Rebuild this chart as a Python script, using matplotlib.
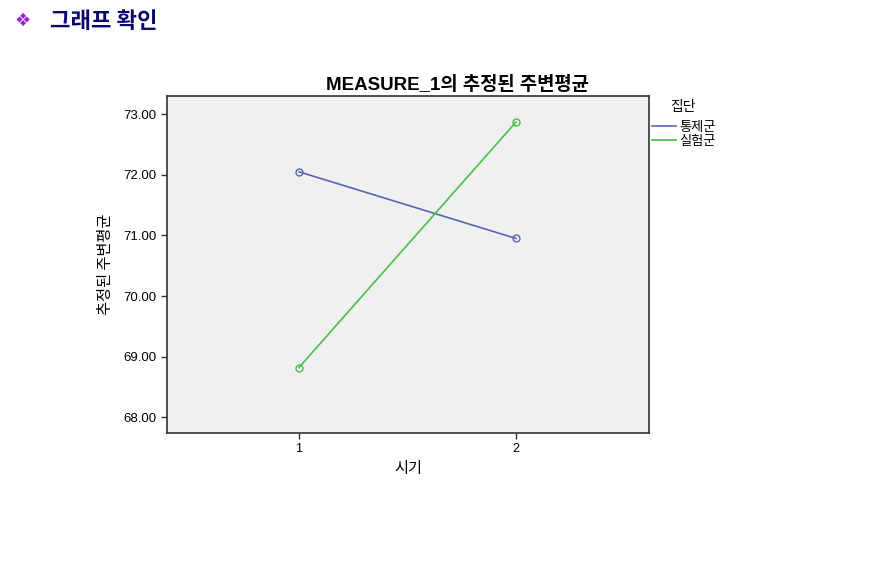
import matplotlib.pyplot as plt
from matplotlib.lines import Line2D

plt.rcParams['font.family'] = ['Noto Sans CJK KR', 'DejaVu Sans']

# data
times = [1, 2]
control = [72.05, 70.95]   # 통제군
treat = [68.82, 72.87]     # 실험군
yticks = [68, 69, 70, 71, 72, 73]

fig = plt.figure(figsize=(8.91, 5.88), dpi=100)
ax = fig.add_axes([0.1874, 0.2636, 0.541, 0.5731])
ax.set_facecolor("#f0f0f0")

ax.plot(times, control, color="#5566b4", lw=1.2, marker="o", ms=5,
        mfc="none", mec="#5566b4", mew=1.0)
ax.plot(times, treat, color="#44c044", lw=1.2, marker="o", ms=5,
        mfc="none", mec="#44c044", mew=1.0)

ax.set_xlim(0.392, 2.613)
ax.set_ylim(67.74, 73.30)
ax.set_xticks(times)
ax.set_xticklabels(["1", "2"], fontsize=9, family="Liberation Sans")
ax.set_yticks(yticks)
ax.set_yticklabels([f"{v:.2f}" for v in yticks], fontsize=9.5,
                   family="Liberation Sans")
ax.tick_params(length=4, width=1, color="#333333")
for s in ax.spines.values():
    s.set_color("#333333")
    s.set_linewidth(1.2)

ax.set_xlabel("시기", fontsize=11, labelpad=3)
ax.set_ylabel("추정된 주변평균", fontsize=11, labelpad=7)

fig.text(457 / 891, 1 - 85 / 588, "MEASURE_1의 추정된 주변평균",
         ha="center", va="center", fontsize=13.5, fontweight="bold",
         family=["Liberation Sans", "Noto Sans CJK KR"])

# legend at the right of the plot
fig.text(683 / 891, 1 - 107 / 588, "집단", ha="center", va="center",
         fontsize=10)
handles = [Line2D([], [], color="#5566b4", lw=1.2),
           Line2D([], [], color="#44c044", lw=1.2)]
fig.legend(handles, ["통제군", "실험군"],
           loc="upper left", bbox_to_anchor=(652 / 891, 1 - 121 / 588),
           frameon=False, fontsize=9.5, borderpad=0,
           handlelength=1.8, handletextpad=0.3, labelspacing=0.05,
           borderaxespad=0)

# page header
fig.text(14 / 891, 1 - 21 / 588, "❖", color="#9a1fe0", fontsize=13,
         va="center", family="DejaVu Sans")
fig.text(50 / 891, 1 - 21 / 588, "그래프 확인", color="#0a0a6e", fontsize=16,
         fontweight="bold", va="center")

fig.savefig("out.png", dpi=100)
